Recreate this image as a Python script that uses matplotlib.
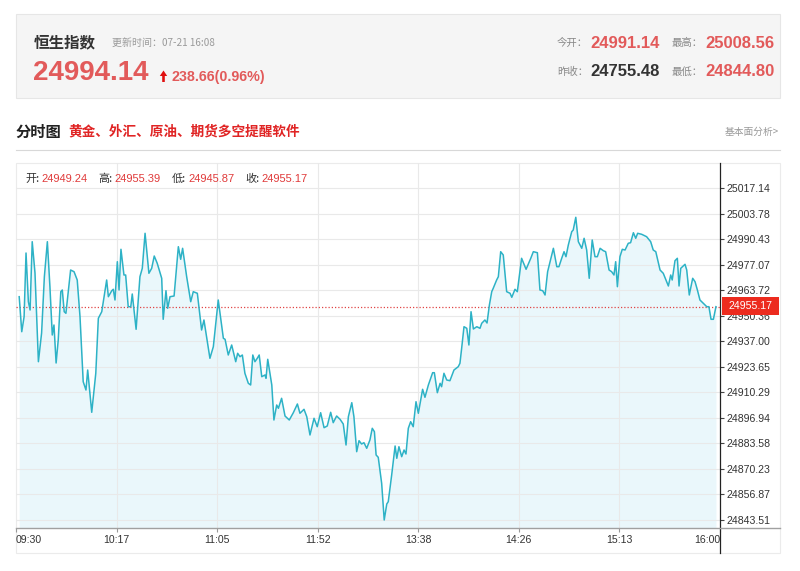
import numpy as np
import matplotlib
matplotlib.use('Agg')
import matplotlib.pyplot as plt
from matplotlib.patches import Rectangle, Polygon

# ---------------- data ----------------
minutes = [1.5, 2.7, 3.8, 4.7, 5.8, 6.6, 7.6, 8.9, 10.5, 12.0, 13.3, 14.7, 15.9, 17.0, 17.8,
           18.8, 19.8, 21.0, 21.7, 22.6, 23.4, 25.6, 27.2, 28.7, 30.0, 31.5, 32.8, 33.6, 35.5,
           37.4, 38.6, 40.2, 42.5, 43.3, 44.9, 45.6, 46.4, 47.5, 48.3, 49.2, 50.6, 51.4, 52.6,
           53.8, 54.5, 56.3, 58.1, 59.2, 60.5, 62.3, 63.6, 64.8, 66.2, 68.3, 69.0, 70.3, 71.1,
           72.2, 74.1, 76.1, 77.2, 78.1, 80.0, 81.9, 83.1, 85.0, 87.0, 88.1, 90.9, 92.5, 94.8,
           97.2, 98.0, 99.5, 101.1, 103.0, 103.9, 105.0, 106.1, 107.3, 108.9, 110.0, 111.0,
           112.0, 113.1, 114.0, 115.2, 116.7, 117.2, 118.0, 119.9, 120.9, 122.2, 123.0, 124.5,
           126.1, 128.1, 130.0, 131.9, 133.1, 135.0, 136.3, 137.8, 139.7, 141.2, 142.8, 144.4,
           145.9, 147.5, 148.7, 150.3, 151.9, 153.4, 154.7, 155.8, 157.4, 158.4, 159.7, 160.8,
           162.0, 163.1, 164.4, 165.9, 167.0, 168.0, 168.8, 169.8, 171.4, 172.6, 173.8, 174.5,
           176.1, 177.7, 178.5, 179.5, 180.8, 181.9, 182.8, 183.9, 185.0, 186.2, 187.5, 188.6,
           190.6, 191.7, 193.3, 195.3, 196.1, 197.5, 198.8, 199.5, 200.6, 201.9, 203.4, 205.3,
           207.3, 208.1, 208.9, 210.0, 211.3, 212.3, 213.3, 214.4, 216.0, 217.5, 218.3, 219.8,
           220.8, 221.9, 223.0, 223.7, 225.3, 226.1, 227.2, 228.4, 230.0, 231.6, 232.4, 233.9,
           235.0, 237.0, 239.1, 241.3, 242.5, 244.4, 245.6, 246.9, 248.0, 249.2, 251.9, 253.5,
           254.5, 255.8, 256.9, 257.8, 258.9, 260.5, 261.2, 262.4, 263.6, 265.2, 266.3, 267.5,
           268.7, 270.1, 271.4, 272.5, 273.8, 275.3, 276.4, 278.0, 279.2, 280.3, 281.1, 281.9,
           283.1, 284.2, 285.5, 287.0, 288.1, 289.4, 290.5, 291.4, 293.3, 295.6, 297.5, 298.7,
           299.9, 301.9, 303.4, 305.8, 306.9, 307.6, 308.9, 310.0, 310.8, 311.6, 313.6, 314.4,
           315.6, 317.2, 318.3, 319.4, 320.6, 322.2, 323.8, 324.8, 325.8, 326.9, 328.1]
prices = [24960.40, 24942.07, 24949.93, 24983.27, 24957.78, 24953.43, 24989.19, 24972.80, 24926.37,
          24941.39, 24970.87, 24989.19, 24965.63, 24940.35, 24945.58, 24925.69, 24937.73, 24963.02,
          24963.90, 24952.54, 24951.71, 24974.37, 24973.49, 24969.14, 24949.93, 24915.90, 24911.55,
          24922.02, 24899.88, 24920.30, 24949.09, 24952.54, 24969.14, 24960.40, 24963.54, 24964.27,
          24958.67, 24978.72, 24963.90, 24985.21, 24971.76, 24971.76, 24955.16, 24955.16, 24961.81,
          24943.33, 24970.87, 24975.26, 24993.59, 24972.65, 24975.26, 24981.70, 24977.88, 24970.03,
          24948.57, 24963.54, 24954.32, 24960.40, 24960.76, 24986.57, 24979.98, 24985.73, 24970.87,
          24957.78, 24963.02, 24962.18, 24942.96, 24948.20, 24928.15, 24934.22, 24958.67, 24938.62,
          24938.10, 24929.88, 24935.11, 24926.37, 24930.77, 24928.99, 24929.88, 24920.30, 24915.06,
          24914.17, 24929.88, 24926.37, 24928.15, 24929.88, 24918.52, 24919.41, 24917.68, 24927.63,
          24914.17, 24895.85, 24903.70, 24901.97, 24907.21, 24897.94, 24895.85, 24899.67, 24904.23,
          24899.36, 24901.45, 24897.58, 24888.00, 24896.74, 24892.34, 24899.67, 24891.82, 24892.71,
          24899.88, 24894.44, 24897.94, 24896.22, 24893.76, 24882.76, 24897.58, 24904.91, 24897.58,
          24879.26, 24885.01, 24883.29, 24883.97, 24881.03, 24885.38, 24891.51, 24889.73, 24877.53,
          24876.32, 24862.71, 24843.50, 24851.88, 24853.08, 24867.06, 24882.24, 24875.80, 24881.87,
          24876.64, 24880.14, 24878.05, 24891.51, 24894.96, 24892.34, 24905.43, 24899.36, 24911.92,
          24907.73, 24914.17, 24920.61, 24920.61, 24910.14, 24915.06, 24913.28, 24920.30, 24916.79,
          24916.42, 24922.02, 24923.75, 24925.53, 24933.38, 24944.69, 24943.85, 24935.11, 24952.54,
          24943.49, 24944.69, 24943.85, 24946.47, 24948.20, 24946.63, 24956.05, 24963.02, 24964.79,
          24969.14, 24970.87, 24983.96, 24982.23, 24963.02, 24962.18, 24960.08, 24964.27, 24963.02,
          24980.50, 24974.74, 24980.50, 24983.96, 24983.43, 24963.90, 24963.54, 24961.29, 24973.49,
          24985.73, 24976.10, 24976.10, 24980.50, 24983.96, 24981.34, 24987.46, 24994.43, 24995.31,
          25001.96, 24989.19, 24985.73, 24990.97, 24984.84, 24970.03, 24990.08, 24981.34, 24981.34,
          24985.73, 24984.48, 24983.96, 24974.37, 24973.49, 24971.76, 24978.72, 24965.63, 24981.34,
          24985.21, 24984.84, 24988.35, 24988.67, 24993.90, 24990.97, 24993.59, 24993.06, 24991.81,
          24989.19, 24984.84, 24983.96, 24974.37, 24972.65, 24966.00, 24971.76, 24969.14, 24979.24,
          24980.50, 24966.00, 24975.26, 24977.36, 24974.37, 24961.29, 24970.03, 24968.25, 24963.90,
          24958.67, 24956.94, 24955.16, 24955.16, 24948.57, 24948.57, 24955.17]
last_price = 24955.17
ytick_labels = ['24843.51', '24856.87', '24870.23', '24883.58', '24896.94', '24910.29', '24923.65',
                '24937.00', '24950.36', '24963.72', '24977.07', '24990.43', '25003.78', '25017.14']
xtick_labels = ['09:30', '10:17', '11:05', '11:52', '13:38', '14:26', '15:13', '16:00']
total_minutes = 330

index_name = '恒生指数'
update_time = '更新时间：07-21 16:08'
cur_price = '24994.14'
change_text = '238.66(0.96%)'
today_open = '24991.14'
day_high = '25008.56'
prev_close = '24755.48'
day_low = '24844.80'
bar_labels = ['开:', '高:', '低:', '收:']
bar_values = ['24949.24', '24955.39', '24945.87', '24955.17']
section_title = '分时图'
promo_text = '黄金、外汇、原油、期货多空提醒软件'
link_text = '基本面分析>'

# ---------------- style ----------------
LAT = ['Liberation Sans', 'Noto Sans CJK SC']
CJK = ['Noto Sans CJK SC', 'DejaVu Sans']
plt.rcParams['font.family'] = CJK
RED = '#e25a5a'
W, H = 800, 571

fig = plt.figure(figsize=(8, 5.71), dpi=100)
fig.patch.set_facecolor('white')

def overlay(z):
    a = fig.add_axes([0, 0, 1, 1], zorder=z)
    a.set_xlim(0, W)
    a.set_ylim(H, 0)
    a.axis('off')
    a.patch.set_alpha(0)
    return a

bg = overlay(0)
bg.add_patch(Rectangle((16, 14), 764, 84, fc='#f5f5f5', ec='#e6e6e6', lw=0.8))
bg.plot([16, 780], [150, 150], color='#d8d8d8', lw=0.8)
bg.add_patch(Rectangle((16, 163), 764, 390, fc='white', ec='#ebebeb', lw=0.8))

# ---------------- main chart ----------------
y_px_top, y_px_bot = 163, 528
ymin, ymax = 24839.31, 25030.39
ax = fig.add_axes([16 / W, (H - y_px_bot) / H, 704 / W, (y_px_bot - y_px_top) / H], zorder=1)
ax.patch.set_alpha(0)
ax.set_xlim(0, total_minutes)
ax.set_ylim(ymin, ymax)
for s in ax.spines.values():
    s.set_visible(False)

yt = [float(v) for v in ytick_labels]
xt = np.linspace(0, total_minutes, len(xtick_labels))

ax.fill_between(minutes, prices, ymin, color='#eaf7fb', lw=0, zorder=1)
for t in yt:
    ax.axhline(t, color='#e9e9e9', lw=0.8, zorder=1.5)
for t in xt[1:-1]:
    ax.axvline(t, color='#e9e9e9', lw=0.8, zorder=1.5)
ax.plot(minutes, prices, color='#2db2c6', lw=1.1, zorder=3, solid_joinstyle='round')
ax.axhline(last_price, color='#e04545', lw=0.9, ls=(0, (1, 1.6)), zorder=2.5)

ax.yaxis.tick_right()
ax.set_yticks(yt)
ax.set_yticklabels(ytick_labels, fontsize=7.6, family=LAT, color='#333333')
ax.tick_params(axis='y', length=3, width=0.8, color='#444444', pad=1.5)
ax.set_xticks(xt)
ax.set_xticklabels(xtick_labels, fontsize=7.6, family=LAT, color='#333333')
ax.tick_params(axis='x', length=3, width=0.8, color='#999999', pad=2)
xl = ax.get_xticklabels()
xl[0].set_ha('left')
xl[-1].set_ha('right')

# ---------------- foreground ----------------
fg = overlay(3)
fg.plot([720, 720], [163, 553], color='#222222', lw=0.9)
fg.plot([16, 780], [528, 528], color='#a0a0a0', lw=1.0)

fg.add_patch(Rectangle((722, 296.5), 57, 18, fc='#ec2b1e', ec='none'))
fg.text(750.5, 305.8, f'{last_price:.2f}', color='white', fontsize=7.6, family=LAT,
        ha='center', va='center')

# OHLC row
lab_x = [25, 98, 172, 245]
val_x = [41, 114, 188, 261]
for lx, vx, lab, val in zip(lab_x, val_x, bar_labels, bar_values):
    fg.text(lx, 179, lab, fontsize=8, color='#333333', family=CJK, ha='left', va='center')
    fg.text(vx, 179, val, fontsize=8, color='#e03a3a', family=LAT, ha='left', va='center')

# header
fg.text(34, 42, index_name, fontsize=11.2, fontweight='bold', color='#333333', family=CJK,
        ha='left', va='center')
fg.text(112, 42.5, update_time, fontsize=7.2, color='#9a9a9a', family=CJK, ha='left', va='center')
fg.text(33, 73, cur_price, fontsize=20, fontweight='bold', color=RED, family=LAT,
        ha='left', va='center')
fg.add_patch(Polygon([(163.5, 70.5), (167.2, 76), (164.8, 76), (164.8, 82), (162.2, 82),
                      (162.2, 76), (159.8, 76)], closed=True, fc='#e01010', ec='none'))
fg.text(171, 77, change_text, fontsize=10.3, fontweight='bold', color=RED, family=LAT,
        ha='left', va='center')

fg.text(588, 43, '今开：', fontsize=7.5, color='#888888', family=CJK, ha='right', va='center')
fg.text(590, 43, today_open, fontsize=12, fontweight='bold', color=RED, family=LAT,
        ha='left', va='center')
fg.text(703, 43, '最高：', fontsize=7.5, color='#888888', family=CJK, ha='right', va='center')
fg.text(705, 43, day_high, fontsize=12, fontweight='bold', color=RED, family=LAT,
        ha='left', va='center')
fg.text(588, 72, '昨收：', fontsize=7.5, color='#888888', family=CJK, ha='right', va='center')
fg.text(590, 72, prev_close, fontsize=12, fontweight='bold', color='#333333', family=LAT,
        ha='left', va='center')
fg.text(703, 72, '最低：', fontsize=7.5, color='#888888', family=CJK, ha='right', va='center')
fg.text(705, 72, day_low, fontsize=12, fontweight='bold', color=RED, family=LAT,
        ha='left', va='center')

# section header
fg.text(16, 132, section_title, fontsize=11, fontweight='bold', color='#222222', family=CJK,
        ha='left', va='center')
fg.text(68, 131.5, promo_text, fontsize=9.8, fontweight='bold', color='#e02424', family=CJK,
        ha='left', va='center')
fg.text(779, 131.5, link_text, fontsize=7, color='#999999', family=CJK, ha='right', va='center')

fig.savefig('out.png', dpi=100, facecolor='white')
